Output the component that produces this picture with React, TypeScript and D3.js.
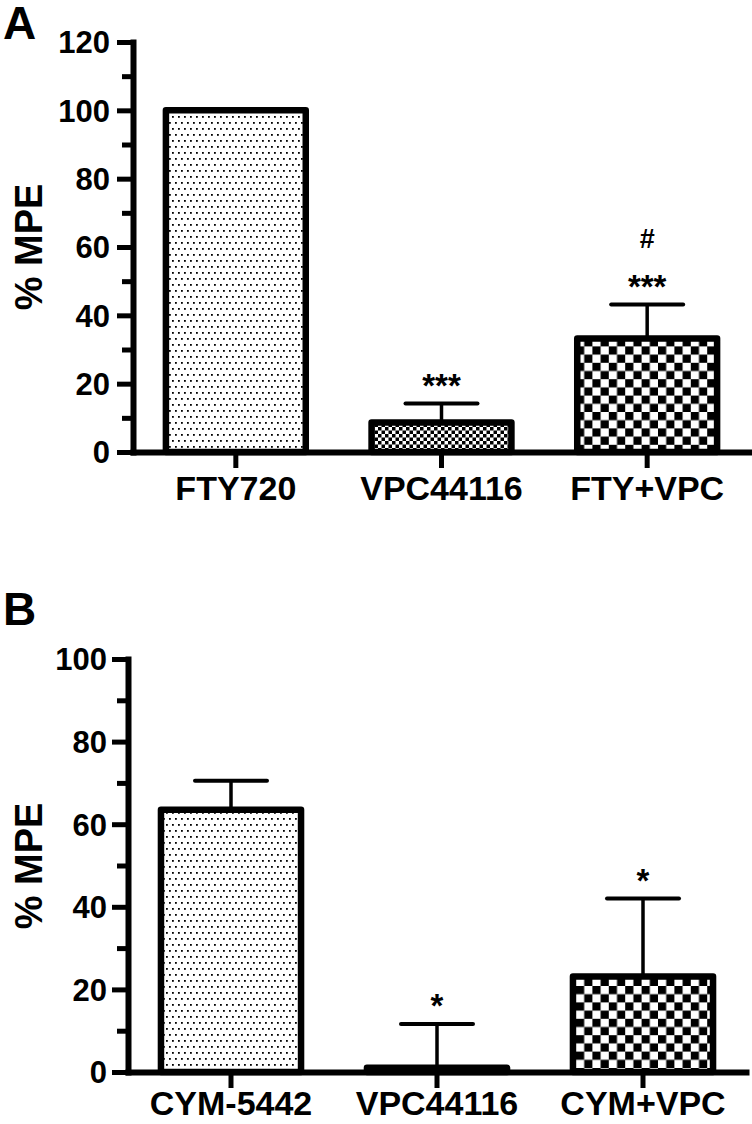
import * as d3 from 'd3';
import React, { useEffect, useRef } from 'react';

// panel A
const catsA = ['FTY720', 'VPC44116', 'FTY+VPC'];
const meansA = [100, 8.6, 33.2];
const semA = [0, 5.6, 10];
const starsA = ['', '***', '***'];
const hashA = ['', '', '#'];
const majorTicksA = [0, 20, 40, 60, 80, 100, 120];
const minorTicksA = [10, 30, 50, 70, 90, 110];

// panel B
const catsB = ['CYM-5442', 'VPC44116', 'CYM+VPC'];
const meansB = [63.5, 1, 23.1];
const semB = [7, 10.6, 18.9];
const starsB = ['', '*', '*'];
const hashB = ['', '', ''];
const majorTicksB = [0, 20, 40, 60, 80, 100];
const minorTicksB = [10, 30, 50, 70, 90];

const fills = ['dots', 'fineCheck', 'check'];

const FONT = '"Liberation Sans", Arial, Helvetica, sans-serif';

const drawPanel = (svg, p) => {
    const y = d3.scaleLinear().domain(p.yDomain).range(p.yRange);
    const x = d3.scaleBand().domain(p.cats).range(p.xRange).paddingInner(0.32).paddingOuter(0.16);
    const g = svg.append('g');

    // bars
    g.selectAll('rect.bar')
        .data(p.means)
        .join('rect')
        .attr('class', 'bar')
        .attr('x', (d, i) => x(p.cats[i]))
        .attr('width', x.bandwidth())
        .attr('y', d => y(d))
        .attr('height', d => y(0) - y(d))
        .attr('fill', (d, i) => 'url(#' + fills[i] + ')')
        .attr('stroke', '#000')
        .attr('stroke-width', 6.5)
        .attr('stroke-linejoin', 'round');

    // error bars
    p.means.forEach((m, i) => {
        if (!p.sem[i]) return;
        const cx = x(p.cats[i]) + x.bandwidth() / 2;
        const top = y(m + p.sem[i]);
        g.append('line')
            .attr('x1', cx).attr('x2', cx)
            .attr('y1', y(m)).attr('y2', top)
            .attr('stroke', '#000').attr('stroke-width', 3.5);
        g.append('line')
            .attr('x1', cx - 36).attr('x2', cx + 36)
            .attr('y1', top).attr('y2', top)
            .attr('stroke', '#000').attr('stroke-width', 4).attr('stroke-linecap', 'round');
        if (p.stars[i]) {
            g.append('text')
                .attr('x', cx).attr('y', top - 26).attr('dy', '0.58em')
                .attr('text-anchor', 'middle')
                .attr('font-family', FONT).attr('font-weight', 'bold').attr('font-size', 33)
                .text(p.stars[i]);
        }
        if (p.hash[i]) {
            g.append('text')
                .attr('x', cx).attr('y', top - 66).attr('dy', '0.36em')
                .attr('text-anchor', 'middle')
                .attr('font-family', FONT).attr('font-weight', 'bold').attr('font-size', 27)
                .text(p.hash[i]);
        }
    });

    // y axis
    const yAxis = g.append('g')
        .attr('transform', 'translate(' + p.xRange[0] + ',0)')
        .call(d3.axisLeft(y).tickValues(p.major).tickSize(16).tickSizeOuter(0).tickPadding(p.yPad));
    g.append('g')
        .attr('transform', 'translate(' + p.xRange[0] + ',0)')
        .call(d3.axisLeft(y).tickValues(p.minor).tickSize(11).tickSizeOuter(0).tickFormat(() => ''))
        .call(s => s.select('.domain').remove());

    // x axis
    const xAxis = g.append('g')
        .attr('transform', 'translate(0,' + y(0) + ')')
        .call(d3.axisBottom(x).tickSize(16).tickSizeOuter(0).tickPadding(p.xPad));

    g.selectAll('.domain').attr('stroke-width', 6).attr('stroke-linecap', 'square');
    g.selectAll('.tick line').attr('stroke-width', 5);
    yAxis.selectAll('text')
        .attr('font-family', FONT).attr('font-weight', 'bold').attr('font-size', 31).attr('fill', '#000')
        .attr('dy', '0.35em');
    xAxis.selectAll('text')
        .attr('font-family', FONT).attr('font-weight', 'bold').attr('font-size', 34).attr('fill', '#000');

    // y title
    g.append('text')
        .attr('transform', 'translate(' + p.titleX + ',' + p.titleY + ') rotate(-90)')
        .attr('dy', '0.36em')
        .attr('text-anchor', 'middle')
        .attr('font-family', FONT).attr('font-weight', 'bold').attr('font-size', 38)
        .text('% MPE');

    // panel letter
    g.append('text')
        .attr('x', 3).attr('y', p.letterY)
        .attr('font-family', FONT).attr('font-weight', 'bold').attr('font-size', 46)
        .text(p.letter);
};

const App = () => {
    const ref = useRef(null);

    useEffect(() => {
        const svg = d3.select(ref.current);
        svg.selectAll('*').remove();
        const defs = svg.append('defs');

        const dots = defs.append('pattern').attr('id', 'dots')
            .attr('patternUnits', 'userSpaceOnUse').attr('width', 6).attr('height', 12);
        dots.append('rect').attr('width', 6).attr('height', 12).attr('fill', '#fff');
        dots.append('rect').attr('x', 1).attr('y', 2).attr('width', 1.8).attr('height', 1.8).attr('fill', '#000');
        dots.append('rect').attr('x', 4).attr('y', 8).attr('width', 1.8).attr('height', 1.8).attr('fill', '#000');

        const fine = defs.append('pattern').attr('id', 'fineCheck')
            .attr('patternUnits', 'userSpaceOnUse').attr('width', 7).attr('height', 7);
        fine.append('rect').attr('width', 7).attr('height', 7).attr('fill', '#fff');
        fine.append('rect').attr('width', 3.5).attr('height', 3.5).attr('fill', '#000');
        fine.append('rect').attr('x', 3.5).attr('y', 3.5).attr('width', 3.5).attr('height', 3.5).attr('fill', '#000');

        const check = defs.append('pattern').attr('id', 'check')
            .attr('patternUnits', 'userSpaceOnUse').attr('width', 16.4).attr('height', 16.4)
            .attr('x', 2).attr('y', 2);
        check.append('rect').attr('width', 16.4).attr('height', 16.4).attr('fill', '#fff');
        check.append('rect').attr('width', 8.2).attr('height', 8.2).attr('fill', '#000');
        check.append('rect').attr('x', 8.2).attr('y', 8.2).attr('width', 8.2).attr('height', 8.2).attr('fill', '#000');

        drawPanel(svg, {
            cats: catsA, means: meansA, sem: semA, stars: starsA, hash: hashA,
            major: majorTicksA, minor: minorTicksA,
            yDomain: [0, 120], yRange: [452, 42], xRange: [133, 750], yPad: 7, xPad: 8,
            titleX: 28, titleY: 247, letter: 'A', letterY: 39
        });
        drawPanel(svg, {
            cats: catsB, means: meansB, sem: semB, stars: starsB, hash: hashB,
            major: majorTicksB, minor: minorTicksB,
            yDomain: [0, 100], yRange: [1072, 659], xRange: [128, 746], yPad: 5, xPad: 3,
            titleX: 28, titleY: 866, letter: 'B', letterY: 625
        });
    }, []);

    return (
        <svg ref={ref} width={752} height={1124}
            style={{ position: 'absolute', left: 0, top: 0, background: '#fff' }} />
    );
};

export default App;
